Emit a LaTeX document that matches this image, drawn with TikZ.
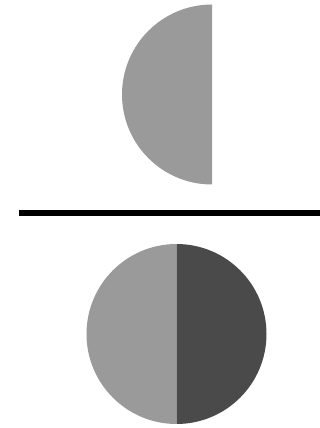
\documentclass[tikz,border=0pt]{standalone}
\definecolor{lightg}{HTML}{9A9A9A}
\definecolor{darkg}{HTML}{4A4A4A}
\begin{document}
\begin{tikzpicture}[x=1pt,y=1pt]
\useasboundingbox (0,0) rectangle (320,428);
% top half disc
\fill[lightg] (212,423.5) arc[start angle=90,end angle=270,radius=90pt] -- cycle;
% divider line
\coordinate (l1) at (19,215);
\coordinate (l2) at (320,215);
\draw[line width=6pt] (l1) -- (l2);
% bottom disc
\fill[lightg] (176.5,184) arc[start angle=90,end angle=270,radius=90pt] -- cycle;
\fill[darkg] (176.5,184) arc[start angle=90,end angle=-90,radius=90pt] -- cycle;
\end{tikzpicture}
\end{document}
